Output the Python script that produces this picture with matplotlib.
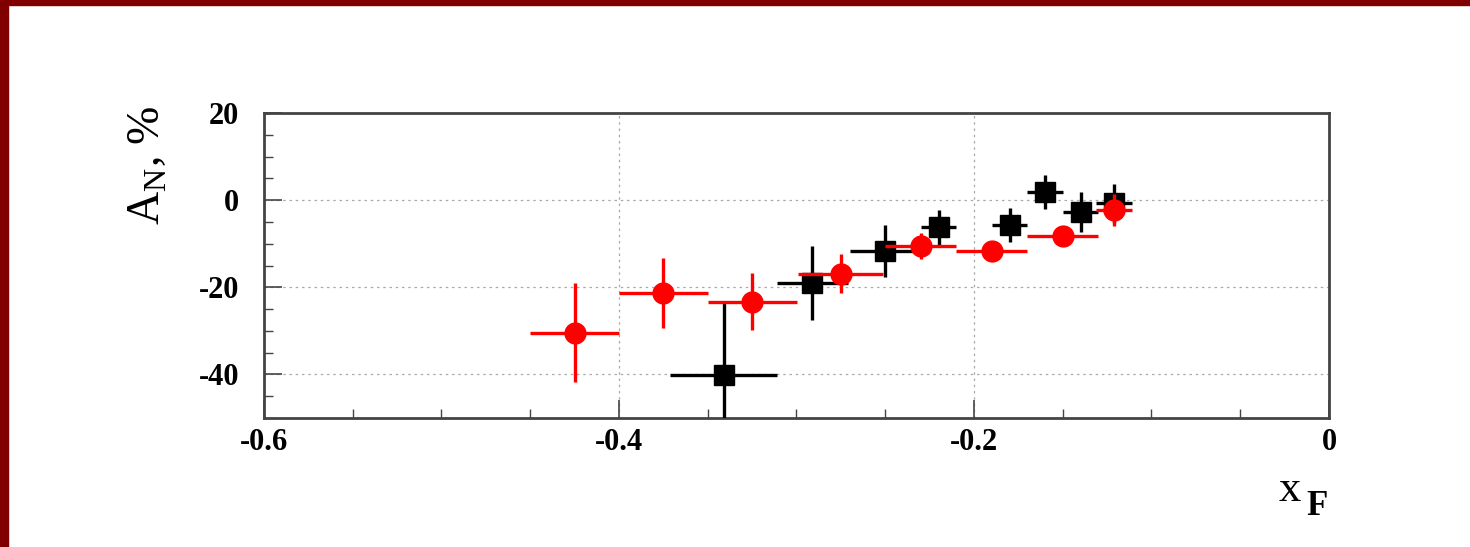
import matplotlib.pyplot as plt
from matplotlib.ticker import MultipleLocator

# red circles
xf_red = [-0.425, -0.375, -0.325, -0.275, -0.23, -0.19, -0.15, -0.121]
an_red = [-30.4, -21.3, -23.3, -16.9, -10.5, -11.7, -8.2, -2.3]
xerr_red = [0.025, 0.025, 0.025, 0.024, 0.02, 0.02, 0.02, 0.01]
yerr_red = [11.4, 8.0, 6.5, 4.5, 3.0, 1.8, 1.5, 3.6]

# black squares
xf_blk = [-0.341, -0.291, -0.250, -0.220, -0.180, -0.160, -0.140, -0.121]
an_blk = [-40.2, -19.0, -11.7, -6.2, -5.7, 1.8, -2.7, -0.7]
xerr_blk = [0.03, 0.02, 0.02, 0.01, 0.01, 0.01, 0.01, 0.01]
yerr_blk = [17.0, 8.5, 6.0, 4.0, 4.0, 3.9, 4.5, 4.5]

W, H = 1470, 547
plt.rcParams['font.family'] = ['Liberation Serif', 'DejaVu Serif']
plt.rcParams['axes.unicode_minus'] = False
fig = plt.figure(figsize=(W / 100, H / 100), dpi=100)
fig.patch.set_facecolor('white')

# dark red frame (top and left)
fig.patches.append(plt.Rectangle((0, 1 - 5 / H), 1, 5 / H, transform=fig.transFigure,
                                 color='#800000', zorder=0))
fig.patches.append(plt.Rectangle((0, 0), 8 / W, 1, transform=fig.transFigure,
                                 color='#800000', zorder=0))

ax = fig.add_axes([264 / W, 1 - 418 / H, (1329 - 264) / W, (418 - 113) / H])

ax.errorbar(xf_blk, an_blk, xerr=xerr_blk, yerr=yerr_blk, fmt='s', color='black',
            ms=14, elinewidth=2.4, capsize=0, zorder=3)
ax.errorbar(xf_red, an_red, xerr=xerr_red, yerr=yerr_red, fmt='o', color='#ff0000',
            ms=15, elinewidth=2.4, capsize=0, zorder=4)

ax.set_xlim(-0.6, 0)
ax.set_ylim(-50, 20)
ax.xaxis.set_minor_locator(MultipleLocator(0.05))
ax.yaxis.set_major_locator(MultipleLocator(20))
ax.yaxis.set_minor_locator(MultipleLocator(5))
ax.set_xticks([-0.6, -0.4, -0.2, 0])
ax.set_xticklabels(['-0.6', '-0.4', '-0.2', '0'])
ax.tick_params(which='both', direction='in', top=False, right=False, color='#444444')
ax.tick_params(which='major', length=13, width=1.2, labelsize=22)
ax.tick_params(which='minor', length=6.5, width=1.0)
ax.tick_params(axis='x', pad=7)
ax.tick_params(axis='y', pad=18)
for lab in ax.get_xticklabels() + ax.get_yticklabels():
    lab.set_fontweight('bold')

ax.grid(True, which='major', linestyle=(0, (2, 3)), color='#aaaaaa', linewidth=0.9)
ax.set_axisbelow(True)
for s in ax.spines.values():
    s.set_linewidth(2)
    s.set_color('#444444')

fig.text(148 / W, 1 - 165 / H, r'A$_{\mathregular{N}}$, %', rotation=90, fontsize=33,
         ha='center', va='center')
fig.text(1279 / W, 1 - 501 / H, 'x', fontsize=32, ha='left', va='baseline')
fig.text(1306 / W, 1 - 515 / H, 'F', fontsize=25, fontweight='bold', ha='left', va='baseline')

fig.savefig('out.png', dpi=100)
